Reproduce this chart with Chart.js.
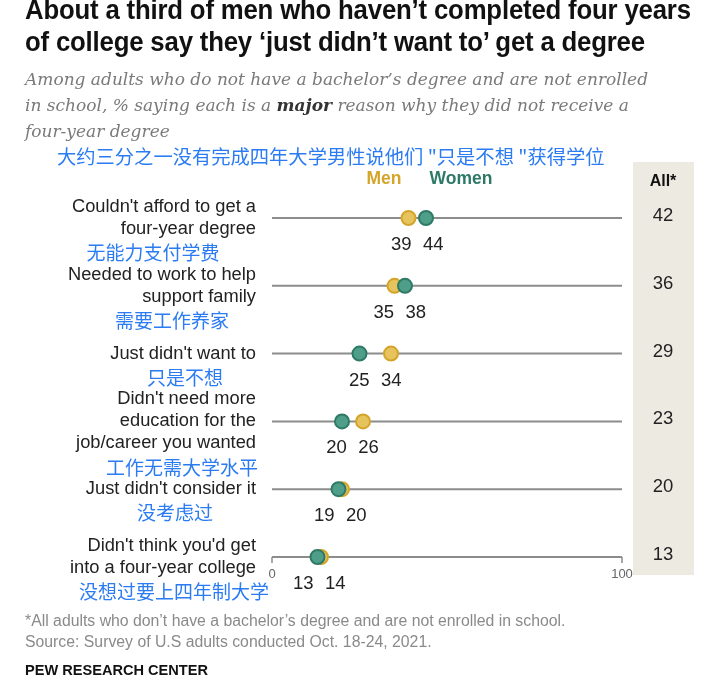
<!DOCTYPE html>
<html>
<head>
<meta charset="utf-8">
<script src="https://cdn.jsdelivr.net/npm/chart.js@4.4.0/dist/chart.umd.min.js"></script>
<style>
  body { margin: 0; background: #fff; }
  #wrap { position: relative; width: 711px; height: 683px; overflow: hidden; }
  #chart { position: absolute; left: 0; top: 0; }
  .title { position: absolute; left: 25px; top: -6px; font: bold 28px "Liberation Sans", sans-serif; line-height: 32px; color: #111; white-space: nowrap; transform: scaleX(0.92); transform-origin: 0 0; letter-spacing: -0.2px; }
  .subtitle { position: absolute; left: 25px; top: 66px; font: italic 17px "DejaVu Serif", serif; line-height: 26px; color: #7a7a7a; white-space: nowrap; }
  .subtitle b { color: #333; }
  .zh { position: absolute; left: 57px; top: 143px; font: 19.3px "Noto Sans CJK SC", sans-serif; line-height: 26px; color: #2b7bf2; white-space: nowrap; }
  .note { position: absolute; left: 25px; top: 610px; font: 15.8px "Liberation Sans", sans-serif; line-height: 21px; color: #8a8a8a; white-space: nowrap; }
  .brand { position: absolute; left: 25px; top: 661px; font: bold 15.5px "Liberation Sans", sans-serif; color: #111; transform: scaleX(0.94); transform-origin: 0 0; }
</style>
</head>
<body>
<div id="wrap">
  <canvas id="chart" width="711" height="683"></canvas>
  <div class="title">About a third of men who haven’t completed four years<br>of college say they ‘just didn’t want to’ get a degree</div>
  <div class="subtitle">Among adults who do not have a bachelor’s degree and are not enrolled<br>in school, % saying each is a <b>major</b> reason why they did not receive a<br>four-year degree</div>
  <div class="zh">大约三分之一没有完成四年大学男性说他们 "只是不想 "获得学位</div>
  <div class="note">*All adults who don’t have a bachelor’s degree and are not enrolled in school.<br>Source: Survey of U.S adults conducted Oct. 18-24, 2021.</div>
  <div class="brand">PEW RESEARCH CENTER</div>
</div>
<script>
// Dados do gráfico
const categories = [
  ["Couldn't afford to get a", "four-year degree"],
  ["Needed to work to help", "support family"],
  ["Just didn't want to"],
  ["Didn't need more", "education for the", "job/career you wanted"],
  ["Just didn't consider it"],
  ["Didn't think you'd get", "into a four-year college"]
];
const categoriesZh = ['无能力支付学费', '需要工作养家', '只是不想', '工作无需大学水平', '没考虑过', '没想过要上四年制大学'];
const menValues = [39, 35, 34, 26, 20, 14];
const womenValues = [44, 38, 25, 20, 19, 13];
const allValues = [42, 36, 29, 23, 20, 13];
const axisTicks = [0, 100];

// Posição horizontal (centro) das legendas em chinês
const zhCenterX = [153, 172, 185, 182, 175, 174];

const MEN_COLOR = '#d4a52a';
const WOMEN_COLOR = '#2e7a66';

/**
 * Desenha linhas, rótulos e coluna "All*"
 */
const pewDecor = {
  id: 'pewDecor',
  beforeDatasetsDraw(chart) {
    const ctx = chart.ctx;
    const x = chart.scales.x;
    const y = chart.scales.y;
    ctx.save();

    // Coluna cinza
    ctx.fillStyle = '#edeae2';
    ctx.fillRect(633, 162, 61, 413);

    // Linhas de cada categoria
    ctx.strokeStyle = '#8c8c8c';
    ctx.lineWidth = 2;
    categories.forEach((c, i) => {
      const py = y.getPixelForValue(i);
      ctx.beginPath();
      ctx.moveTo(x.getPixelForValue(axisTicks[0]), py);
      ctx.lineTo(x.getPixelForValue(axisTicks[1]), py);
      ctx.stroke();
    });

    // Marcas do eixo na última linha
    const lastY = y.getPixelForValue(categories.length - 1);
    ctx.lineWidth = 1.5;
    ctx.fillStyle = '#666';
    ctx.font = '13px "Liberation Sans", sans-serif';
    ctx.textAlign = 'center';
    ctx.textBaseline = 'middle';
    axisTicks.forEach(t => {
      const px = x.getPixelForValue(t);
      ctx.beginPath();
      ctx.moveTo(px, lastY);
      ctx.lineTo(px, lastY + 6);
      ctx.stroke();
      ctx.fillText(String(t), px, lastY + 17);
    });
    ctx.restore();
  },
  afterDatasetsDraw(chart) {
    const ctx = chart.ctx;
    const x = chart.scales.x;
    const y = chart.scales.y;
    ctx.save();
    ctx.textBaseline = 'middle';

    // Legenda
    ctx.font = 'bold 17.5px "Liberation Sans", sans-serif';
    ctx.textAlign = 'center';
    ctx.fillStyle = MEN_COLOR;
    ctx.fillText('Men', 384, 179);
    ctx.fillStyle = WOMEN_COLOR;
    ctx.fillText('Women', 461, 179);
    ctx.fillStyle = '#111';
    ctx.font = 'bold 16px "Liberation Sans", sans-serif';
    ctx.fillText('All*', 663, 182);

    categories.forEach((lines, i) => {
      const py = y.getPixelForValue(i);

      // Valores abaixo dos pontos (menor à esquerda)
      const xm = x.getPixelForValue(menValues[i]);
      const xw = x.getPixelForValue(womenValues[i]);
      let lo = Math.min(xm, xw);
      let hi = Math.max(xm, xw);
      if (hi - lo < 32) {
        const mid = (lo + hi) / 2;
        lo = mid - 16;
        hi = mid + 16;
      }
      const loVal = Math.min(menValues[i], womenValues[i]);
      const hiVal = Math.max(menValues[i], womenValues[i]);
      ctx.font = '18.5px "Liberation Sans", sans-serif';
      ctx.fillStyle = '#222';
      ctx.textAlign = 'center';
      ctx.fillText(String(loVal), lo, py + 27);
      ctx.fillText(String(hiVal), hi, py + 27);

      // Coluna All*
      ctx.fillText(String(allValues[i]), 663, py - 2);

      // Rótulos das categorias
      ctx.font = '18.3px "Liberation Sans", sans-serif';
      ctx.textAlign = 'right';
      const top = py - (lines.length - 1) * 11;
      lines.forEach((ln, k) => ctx.fillText(ln, 256, top + k * 22));

      // Rótulo em chinês
      ctx.font = '19px "Noto Sans CJK SC", sans-serif';
      ctx.fillStyle = '#2b7bf2';
      ctx.textAlign = 'center';
      ctx.fillText(categoriesZh[i], zhCenterX[i], top + (lines.length - 1) * 22 + 24);
    });
    ctx.restore();
  }
};

new Chart(document.getElementById('chart'), {
  type: 'scatter',
  data: {
    datasets: [{
      label: 'Men',
      data: menValues.map((v, i) => ({ x: v, y: i })),
      backgroundColor: '#e6c35c',
      borderColor: MEN_COLOR,
      borderWidth: 2,
      pointRadius: 7,
      pointHoverRadius: 7,
      order: 1,
      clip: false
    }, {
      label: 'Women',
      data: womenValues.map((v, i) => ({ x: v, y: i })),
      backgroundColor: '#4f9e8a',
      borderColor: WOMEN_COLOR,
      borderWidth: 2,
      pointRadius: 7,
      pointHoverRadius: 7,
      order: 0,
      clip: false
    }]
  },
  options: {
    responsive: false,
    animation: false,
    layout: {
      padding: { left: 272, right: 89, top: 218, bottom: 126 }
    },
    scales: {
      x: { type: 'linear', min: 0, max: 100, display: false },
      y: { type: 'linear', min: 0, max: categories.length - 1, reverse: true, display: false }
    },
    plugins: {
      legend: { display: false },
      tooltip: { enabled: false }
    }
  },
  plugins: [pewDecor]
});
</script>
</body>
</html>
